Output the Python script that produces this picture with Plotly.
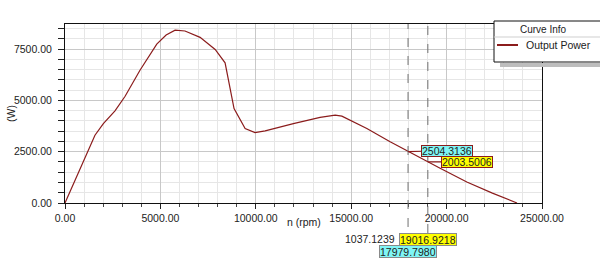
import plotly.graph_objects as go

# ---- data ----
speed_rpm = [0, 1570, 2010, 2620, 3150, 3930, 4810, 5300, 5770, 6290, 7080, 7870,
             8390, 8860, 9440, 9960, 10490, 11970, 13370, 14160, 14510, 15820,
             17040, 17979.798, 19016.9218, 19660, 21060, 22400, 23690]
power_w = [0, 3300, 3870, 4490, 5200, 6470, 7740, 8180, 8420, 8380, 8070, 7480,
           6830, 4600, 3630, 3430, 3510, 3870, 4170, 4280, 4230, 3630,
           2980, 2504.3136, 2003.5006, 1690, 1020, 480, 0]
cursor_x = [17979.7980, 19016.9218]
cursor_y = [2504.3136, 2003.5006]
cursor_x_labels = ["17979.7980", "19016.9218"]
cursor_y_labels = ["2504.3136", "2003.5006"]
cursor_colors = ["#7ff5f5", "#ffff00"]
delta_label = "1037.1239"
series_name = "Output Power"
x_ticks = [0, 5000, 10000, 15000, 20000, 25000]
y_ticks = [0, 2500, 5000, 7500]

# ---- geometry helpers (pixel -> paper) ----
W, H = 600, 266
PX0, PX1, PY0, PY1 = 65, 542, 24, 203
def px(x):
    return (x - PX0) / (PX1 - PX0)
def py(y):
    return (PY1 - y) / (PY1 - PY0)

FONT = "Liberation Sans, Arial, sans-serif"
LINE = "#8b1c1c"
TXT = "#222222"

fig = go.Figure()
fig.add_trace(go.Scatter(x=speed_rpm, y=power_w, mode="lines", name=series_name,
                         line=dict(color=LINE, width=1.2), showlegend=False,
                         hoverinfo="skip"))

fig.update_layout(
    width=W, height=H,
    margin=dict(l=PX0, r=W - PX1, t=PY0, b=H - PY1),
    paper_bgcolor="white", plot_bgcolor="white",
    font=dict(family=FONT, size=10.5, color=TXT),
    showlegend=False,
)
fig.update_xaxes(
    range=[0, 25000], tickvals=x_ticks, tickformat=".2f",
    showgrid=True, gridcolor="#c8c8c8", gridwidth=1,
    minor=dict(dtick=1000, showgrid=True, gridcolor="#e6e6e6", ticks="outside",
               ticklen=3, tickcolor="#444"),
    ticks="outside", ticklen=5, tickcolor="#222",
    showline=True, linecolor="#111", linewidth=1, mirror=True,
    zeroline=False,
)
fig.update_yaxes(
    range=[0, 8720], tickvals=y_ticks, tickformat=".2f",
    showgrid=True, gridcolor="#c8c8c8", gridwidth=1,
    minor=dict(dtick=500, showgrid=True, gridcolor="#e6e6e6", ticks="outside",
               ticklen=6, tickcolor="#222"),
    ticks="outside", ticklen=6, tickcolor="#222", ticklabelstandoff=4,
    showline=True, linecolor="#111", linewidth=1, mirror=True,
    zeroline=False,
)

def note(text, x, y, xanchor="center", yanchor="middle", **kw):
    fig.add_annotation(text=text, x=x, y=y, xref="paper", yref="paper",
                       xanchor=xanchor, yanchor=yanchor, showarrow=False, **kw)

# axis titles
note("n (rpm)", px(303.5), py(222), font=dict(size=10.5, color=TXT))
# y-axis title (clipped label in the original shows only the unit)
note("(W)", px(11), py(114), textangle=-90, font=dict(size=10.5, color=TXT))

# cursor dashed lines + labels
bottom_px = [245, 233]
label_py = [251, 239]
for i in range(2):
    fig.add_shape(type="line", xref="x", yref="paper",
                  x0=cursor_x[i], x1=cursor_x[i], y0=py(bottom_px[i]), y1=1,
                  line=dict(color="#707070", width=1, dash="dash"), layer="above")
    fig.add_annotation(text=cursor_x_labels[i], x=cursor_x[i], xref="x",
                       y=py(label_py[i]), yref="paper", showarrow=False,
                       xanchor="center", yanchor="middle",
                       bgcolor=cursor_colors[i], bordercolor="#8a8a8a",
                       borderwidth=1, borderpad=0, height=11,
                       font=dict(size=10.5, color=TXT))
    fig.add_annotation(text=cursor_y_labels[i], x=cursor_x[i], y=cursor_y[i],
                       xref="x", yref="y", showarrow=True, arrowhead=0,
                       arrowwidth=1.2, arrowcolor=LINE, ax=39, ay=-1 + i,
                       bgcolor=cursor_colors[i], bordercolor=LINE,
                       borderwidth=1, borderpad=0, height=10,
                       font=dict(size=10.5, color=TXT))

note(delta_label, px(397), py(239), xanchor="right",
     font=dict(size=10.5, color=TXT))

# legend box ("Curve Info")
fig.add_shape(type="rect", xref="paper", yref="paper", x0=px(500), x1=px(606),
              y0=py(67), y1=py(63), fillcolor="#bdbdbd", line=dict(width=0),
              layer="above")
fig.add_shape(type="rect", xref="paper", yref="paper", x0=px(494), x1=px(606),
              y0=py(62), y1=py(21), fillcolor="white",
              line=dict(color="#111", width=1), layer="above")
fig.add_shape(type="line", xref="paper", yref="paper", x0=px(494), x1=px(606),
              y0=py(37), y1=py(37), line=dict(color="#cfcfcf", width=1),
              layer="above")
fig.add_shape(type="line", xref="paper", yref="paper", x0=px(497), x1=px(518),
              y0=py(45), y1=py(45), line=dict(color=LINE, width=2),
              layer="above")
note("Curve Info", px(543), py(29), font=dict(size=10, color=TXT))
note(series_name, px(524), py(45), xanchor="left",
     font=dict(size=10.5, color=TXT))

fig.write_html("out.html")
